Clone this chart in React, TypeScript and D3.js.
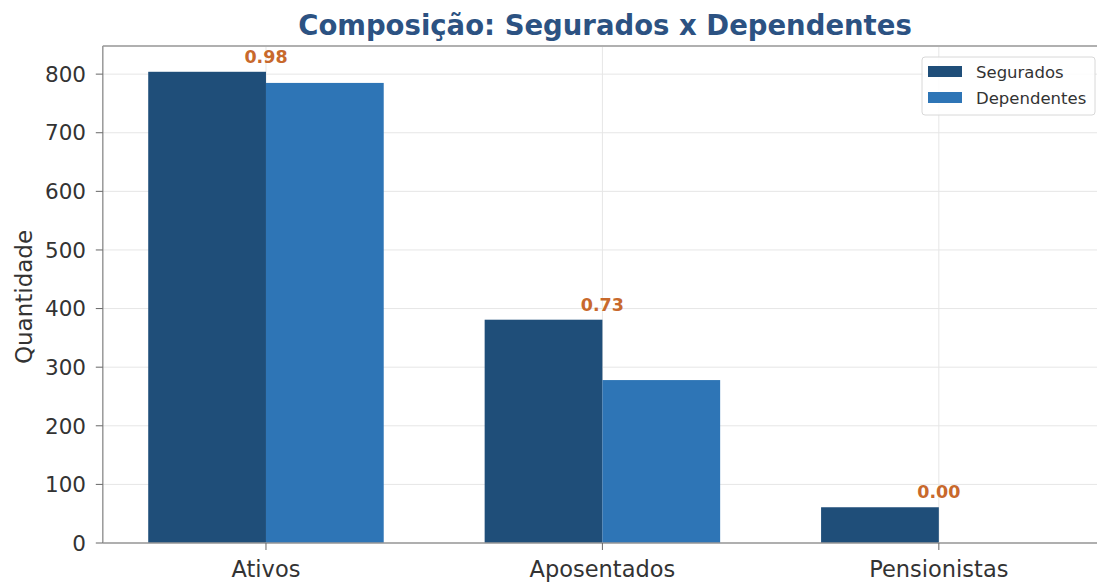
import { useEffect, useRef } from "react";
import * as d3 from "d3";

const categories = ["Ativos", "Aposentados", "Pensionistas"];
const segurados = [804, 381, 61];
const dependentes = [785, 278, 0];
const seriesNames = ["Segurados", "Dependentes"];
const yTicks = [0, 100, 200, 300, 400, 500, 600, 700, 800];

const W = 1097;
const H = 583;
const colors = ["#1f4e79", "#2e75b6"];
const font = "DejaVu Sans, sans-serif";

export default function App() {
  const svgRef = useRef<SVGSVGElement>(null);

  useEffect(() => {
    if (!svgRef.current) return;
    const svg = d3.select(svgRef.current);
    svg.selectAll("*").remove();

    const left = 102.8;
    const right = 1102;
    const top = 46;
    const bottom = 543;
    const barW = 0.35;

    const x = d3.scaleLinear().domain([-0.485, 2.485]).range([left, right]);
    const y = d3.scaleLinear().domain([0, 848]).range([bottom, top]);

    svg.append("rect").attr("width", W).attr("height", H).attr("fill", "#fff");

    // grid
    const grid = svg.append("g").attr("stroke", "#e6e6e6").attr("stroke-width", 1);
    grid
      .selectAll("line.h")
      .data(yTicks)
      .join("line")
      .attr("x1", left)
      .attr("x2", right)
      .attr("y1", (d) => y(d))
      .attr("y2", (d) => y(d));
    grid
      .selectAll("line.v")
      .data(categories)
      .join("line")
      .attr("x1", (_, i) => x(i))
      .attr("x2", (_, i) => x(i))
      .attr("y1", top)
      .attr("y2", bottom);

    // bars
    const series = [segurados, dependentes];
    series.forEach((vals, s) => {
      svg
        .append("g")
        .selectAll("rect")
        .data(vals)
        .join("rect")
        .attr("x", (_, i) => x(i - barW + s * barW))
        .attr("width", x(barW) - x(0))
        .attr("y", (d) => y(d))
        .attr("height", (d) => y(0) - y(d))
        .attr("fill", colors[s]);
    });

    // ratio labels
    svg
      .append("g")
      .selectAll("text")
      .data(categories)
      .join("text")
      .attr("x", (_, i) => x(i))
      .attr("y", (_, i) => y(Math.max(segurados[i], dependentes[i])) - 9)
      .attr("text-anchor", "middle")
      .attr("font-family", font)
      .attr("font-weight", "bold")
      .attr("font-size", 17.5)
      .attr("fill", "#c8692c")
      .text((_, i) => (dependentes[i] / segurados[i]).toFixed(2));

    // spines
    svg
      .append("line")
      .attr("x1", left).attr("x2", right).attr("y1", top).attr("y2", top)
      .attr("stroke", "#b0b0b0").attr("stroke-width", 2);
    svg
      .append("line")
      .attr("x1", left).attr("x2", left).attr("y1", top).attr("y2", bottom)
      .attr("stroke", "#999").attr("stroke-width", 1.5);
    svg
      .append("line")
      .attr("x1", left).attr("x2", right).attr("y1", bottom).attr("y2", bottom)
      .attr("stroke", "#999").attr("stroke-width", 1.5);

    // y axis
    const yAxis = svg.append("g");
    yAxis
      .selectAll("line")
      .data(yTicks)
      .join("line")
      .attr("x1", left - 7)
      .attr("x2", left)
      .attr("y1", (d) => y(d))
      .attr("y2", (d) => y(d))
      .attr("stroke", "#666");
    yAxis
      .selectAll("text")
      .data(yTicks)
      .join("text")
      .attr("x", 86)
      .attr("y", (d) => y(d))
      .attr("dy", "0.36em")
      .attr("text-anchor", "end")
      .attr("font-family", font)
      .attr("font-size", 21.5)
      .attr("fill", "#333")
      .text((d) => d);

    // x axis
    const xAxis = svg.append("g");
    xAxis
      .selectAll("line")
      .data(categories)
      .join("line")
      .attr("x1", (_, i) => x(i))
      .attr("x2", (_, i) => x(i))
      .attr("y1", bottom)
      .attr("y2", bottom + 7)
      .attr("stroke", "#666");
    xAxis
      .selectAll("text")
      .data(categories)
      .join("text")
      .attr("x", (_, i) => x(i))
      .attr("y", bottom + 34)
      .attr("text-anchor", "middle")
      .attr("font-family", font)
      .attr("font-size", 22.5)
      .attr("fill", "#333")
      .text((d) => d);

    // y label
    svg
      .append("text")
      .attr("transform", `translate(32,297) rotate(-90)`)
      .attr("text-anchor", "middle")
      .attr("font-family", font)
      .attr("font-size", 23)
      .attr("fill", "#333")
      .text("Quantidade");

    // title
    svg
      .append("text")
      .attr("x", 605)
      .attr("y", 35)
      .attr("text-anchor", "middle")
      .attr("font-family", font)
      .attr("font-weight", "bold")
      .attr("font-size", 27.5)
      .attr("fill", "#2c5282")
      .text("Composição: Segurados x Dependentes");

    // legend
    const lg = svg.append("g").attr("transform", "translate(922,57)");
    lg.append("rect")
      .attr("width", 173)
      .attr("height", 58)
      .attr("rx", 3)
      .attr("fill", "rgba(255,255,255,0.85)")
      .attr("stroke", "#d8d8d8");
    seriesNames.forEach((name, i) => {
      lg.append("rect")
        .attr("x", 6)
        .attr("y", 9 + i * 26)
        .attr("width", 34)
        .attr("height", 11)
        .attr("fill", colors[i]);
      lg.append("text")
        .attr("x", 54)
        .attr("y", 15 + i * 26)
        .attr("dy", "0.35em")
        .attr("font-family", font)
        .attr("font-size", 16.5)
        .attr("fill", "#333")
        .text(name);
    });
  }, []);

  return (
    <svg
      ref={svgRef}
      width={W}
      height={H}
      style={{ position: "absolute", left: 0, top: 0 }}
    />
  );
}
